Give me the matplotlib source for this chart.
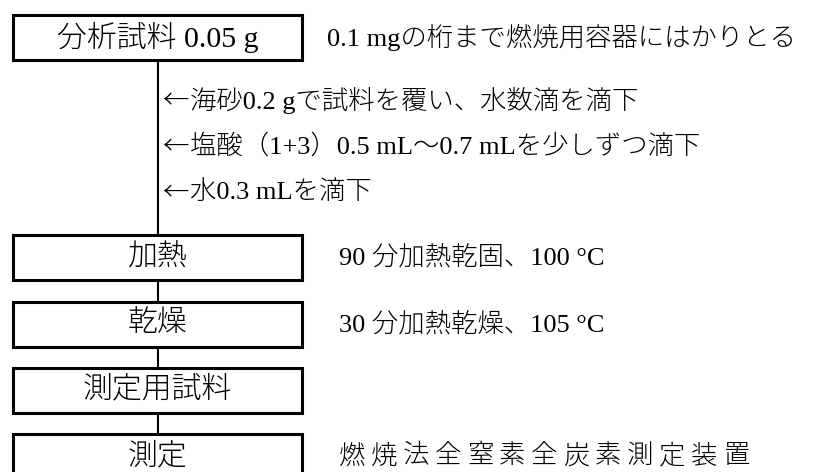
import matplotlib
matplotlib.use("Agg")
import matplotlib.pyplot as plt
from matplotlib.patches import Rectangle

# 工程ごとの箱のラベルと右側の説明
steps = ["分析試料 0.05 g", "加熱", "乾燥", "測定用試料", "測定"]
notes = ["0.1 mgの桁まで燃焼用容器にはかりとる",
         "90 分加熱乾固、100 °C",
         "30 分加熱乾燥、105 °C",
         "",
         "燃焼法全窒素全炭素測定装置"]
# 最初の箱と加熱の間で加える操作（矢印は別に描く）
additions = ["海砂0.2 gで試料を覆い、水数滴を滴下",
             "塩酸（1+3）0.5 mL～0.7 mLを少しずつ滴下",
             "水0.3 mLを滴下"]

fonts = ["Liberation Serif", "Noto Sans CJK JP", "DejaVu Sans"]
plt.rcParams["font.family"] = fonts
plt.rcParams["font.weight"] = "light"

W, H = 835, 472
fig = plt.figure(figsize=(W / 100, H / 100), dpi=100)
ax = fig.add_axes([0, 0, 1, 1])
ax.set_xlim(0, W)
ax.set_ylim(H, 0)
ax.axis("off")

# 配置
box_x0, box_x1 = 13, 302
box_h = 45
line_x = (box_x0 + box_x1) / 2
tops = [15, 235, 301.5, 367.5, 434]
note_x = [327, 339, 339, 339, 339]
add_y0, add_dy = 100, 46
fs_box = 21.5
fs = 19

# 縦の接続線
ax.plot([line_x, line_x], [tops[0] + box_h, tops[-1]], color="black", lw=1.5,
        zorder=1, solid_capstyle="butt")

for lab, note, top, nx in zip(steps, notes, tops, note_x):
    yc = top + box_h / 2
    ax.add_patch(Rectangle((box_x0, top), box_x1 - box_x0, box_h,
                           facecolor="white", edgecolor="black", lw=2.2, zorder=2))
    ax.text(line_x, yc, lab, ha="center", va="center", fontsize=fs_box, zorder=3)
    if not note:
        continue
    if any(c.isdigit() for c in note):
        ax.text(nx, yc, note, ha="left", va="center", fontsize=fs)
    else:
        # 漢字だけの行は字間が広い
        pitch = 32
        for k, ch in enumerate(note):
            ax.text(nx + k * pitch, yc, ch, ha="left", va="center", fontsize=fs)

for i, a in enumerate(additions):
    y = add_y0 + i * add_dy
    ax.text(line_x + 5, y, "←", ha="left", va="center", fontsize=fs,
            family=["Noto Sans CJK JP"])
    ax.text(line_x + 32, y, a, ha="left", va="center", fontsize=fs)

fig.savefig("out.png", dpi=100)
